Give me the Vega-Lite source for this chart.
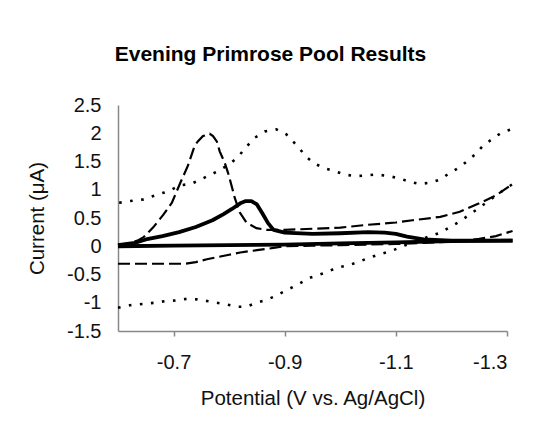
{
  "$schema": "https://vega.github.io/schema/vega-lite/v6.json",
  "width": 389,
  "height": 226,
  "autosize": {"type": "none"},
  "padding": {"left": 118, "top": 105, "right": 45, "bottom": 94},
  "background": "white",
  "title": {
    "text": "Evening Primrose Pool Results",
    "font": "Liberation Sans",
    "fontSize": 21,
    "fontWeight": "bold",
    "color": "#000000",
    "anchor": "middle",
    "baseline": "alphabetic",
    "dx": -42,
    "offset": 13
  },
  "data": {
    "values": [
      {"s": "d1", "o": 1, "x": -0.602, "y": 0.77},
      {"s": "d1", "o": 2, "x": -0.622, "y": 0.8},
      {"s": "d1", "o": 3, "x": -0.646, "y": 0.83},
      {"s": "d1", "o": 4, "x": -0.676, "y": 0.93},
      {"s": "d1", "o": 5, "x": -0.69, "y": 0.97},
      {"s": "d1", "o": 6, "x": -0.712, "y": 1.08},
      {"s": "d1", "o": 7, "x": -0.73, "y": 1.1},
      {"s": "d1", "o": 8, "x": -0.742, "y": 1.15},
      {"s": "d1", "o": 9, "x": -0.765, "y": 1.26},
      {"s": "d1", "o": 10, "x": -0.78, "y": 1.33},
      {"s": "d1", "o": 11, "x": -0.8, "y": 1.45},
      {"s": "d1", "o": 12, "x": -0.816, "y": 1.58},
      {"s": "d1", "o": 13, "x": -0.83, "y": 1.75},
      {"s": "d1", "o": 14, "x": -0.846, "y": 1.92},
      {"s": "d1", "o": 15, "x": -0.864, "y": 2.03},
      {"s": "d1", "o": 16, "x": -0.885, "y": 2.07},
      {"s": "d1", "o": 17, "x": -0.903, "y": 1.98},
      {"s": "d1", "o": 18, "x": -0.924, "y": 1.76},
      {"s": "d1", "o": 19, "x": -0.939, "y": 1.58},
      {"s": "d1", "o": 20, "x": -0.954, "y": 1.46},
      {"s": "d1", "o": 21, "x": -0.975, "y": 1.37},
      {"s": "d1", "o": 22, "x": -0.99, "y": 1.33},
      {"s": "d1", "o": 23, "x": -1.008, "y": 1.27},
      {"s": "d1", "o": 24, "x": -1.026, "y": 1.24},
      {"s": "d1", "o": 25, "x": -1.044, "y": 1.25},
      {"s": "d1", "o": 26, "x": -1.065, "y": 1.27},
      {"s": "d1", "o": 27, "x": -1.089, "y": 1.24},
      {"s": "d1", "o": 28, "x": -1.11, "y": 1.19},
      {"s": "d1", "o": 29, "x": -1.125, "y": 1.14},
      {"s": "d1", "o": 30, "x": -1.143, "y": 1.1},
      {"s": "d1", "o": 31, "x": -1.164, "y": 1.13},
      {"s": "d1", "o": 32, "x": -1.182, "y": 1.19},
      {"s": "d1", "o": 33, "x": -1.194, "y": 1.28},
      {"s": "d1", "o": 34, "x": -1.215, "y": 1.4},
      {"s": "d1", "o": 35, "x": -1.23, "y": 1.52},
      {"s": "d1", "o": 36, "x": -1.242, "y": 1.62},
      {"s": "d1", "o": 37, "x": -1.257, "y": 1.78},
      {"s": "d1", "o": 38, "x": -1.278, "y": 1.93},
      {"s": "d1", "o": 39, "x": -1.29, "y": 2.01},
      {"s": "d1", "o": 40, "x": -1.308, "y": 2.07},

      {"s": "d2", "o": 1, "x": -0.6, "y": -1.09},
      {"s": "d2", "o": 2, "x": -0.624, "y": -1.04},
      {"s": "d2", "o": 3, "x": -0.646, "y": -1.02},
      {"s": "d2", "o": 4, "x": -0.667, "y": -1.0},
      {"s": "d2", "o": 5, "x": -0.685, "y": -0.97},
      {"s": "d2", "o": 6, "x": -0.703, "y": -0.96},
      {"s": "d2", "o": 7, "x": -0.724, "y": -0.93},
      {"s": "d2", "o": 8, "x": -0.742, "y": -0.94},
      {"s": "d2", "o": 9, "x": -0.76, "y": -0.97},
      {"s": "d2", "o": 10, "x": -0.778, "y": -1.0},
      {"s": "d2", "o": 11, "x": -0.796, "y": -1.03},
      {"s": "d2", "o": 12, "x": -0.814, "y": -1.07},
      {"s": "d2", "o": 13, "x": -0.831, "y": -1.07},
      {"s": "d2", "o": 14, "x": -0.849, "y": -1.0},
      {"s": "d2", "o": 15, "x": -0.864, "y": -0.96},
      {"s": "d2", "o": 16, "x": -0.879, "y": -0.9},
      {"s": "d2", "o": 17, "x": -0.897, "y": -0.81},
      {"s": "d2", "o": 18, "x": -0.915, "y": -0.72},
      {"s": "d2", "o": 19, "x": -0.927, "y": -0.66},
      {"s": "d2", "o": 20, "x": -0.942, "y": -0.57},
      {"s": "d2", "o": 21, "x": -0.96, "y": -0.51},
      {"s": "d2", "o": 22, "x": -0.978, "y": -0.45},
      {"s": "d2", "o": 23, "x": -0.993, "y": -0.38},
      {"s": "d2", "o": 24, "x": -1.014, "y": -0.34},
      {"s": "d2", "o": 25, "x": -1.032, "y": -0.28},
      {"s": "d2", "o": 26, "x": -1.05, "y": -0.21},
      {"s": "d2", "o": 27, "x": -1.065, "y": -0.16},
      {"s": "d2", "o": 28, "x": -1.09, "y": -0.09},
      {"s": "d2", "o": 29, "x": -1.12, "y": 0.03},
      {"s": "d2", "o": 30, "x": -1.15, "y": 0.14},
      {"s": "d2", "o": 31, "x": -1.18, "y": 0.24},
      {"s": "d2", "o": 32, "x": -1.215, "y": 0.44},
      {"s": "d2", "o": 33, "x": -1.25, "y": 0.68},
      {"s": "d2", "o": 34, "x": -1.28, "y": 0.9},
      {"s": "d2", "o": 35, "x": -1.31, "y": 1.1},

      {"s": "a1", "o": 1, "x": -0.6, "y": 0.02},
      {"s": "a1", "o": 2, "x": -0.62, "y": 0.05},
      {"s": "a1", "o": 3, "x": -0.635, "y": 0.1},
      {"s": "a1", "o": 4, "x": -0.646, "y": 0.16},
      {"s": "a1", "o": 5, "x": -0.663, "y": 0.33},
      {"s": "a1", "o": 6, "x": -0.681, "y": 0.55},
      {"s": "a1", "o": 7, "x": -0.697, "y": 0.77},
      {"s": "a1", "o": 8, "x": -0.712, "y": 1.12},
      {"s": "a1", "o": 9, "x": -0.726, "y": 1.43},
      {"s": "a1", "o": 10, "x": -0.738, "y": 1.78},
      {"s": "a1", "o": 11, "x": -0.744, "y": 1.86},
      {"s": "a1", "o": 12, "x": -0.753, "y": 1.95},
      {"s": "a1", "o": 13, "x": -0.765, "y": 1.99},
      {"s": "a1", "o": 14, "x": -0.771, "y": 1.95},
      {"s": "a1", "o": 15, "x": -0.778, "y": 1.85},
      {"s": "a1", "o": 16, "x": -0.783, "y": 1.68},
      {"s": "a1", "o": 17, "x": -0.792, "y": 1.48},
      {"s": "a1", "o": 18, "x": -0.798, "y": 1.3},
      {"s": "a1", "o": 19, "x": -0.805, "y": 1.05},
      {"s": "a1", "o": 20, "x": -0.81, "y": 0.86},
      {"s": "a1", "o": 21, "x": -0.819, "y": 0.6},
      {"s": "a1", "o": 22, "x": -0.831, "y": 0.42},
      {"s": "a1", "o": 23, "x": -0.849, "y": 0.32},
      {"s": "a1", "o": 24, "x": -0.867, "y": 0.29},
      {"s": "a1", "o": 25, "x": -0.9, "y": 0.29},
      {"s": "a1", "o": 26, "x": -0.95, "y": 0.31},
      {"s": "a1", "o": 27, "x": -1.0, "y": 0.33},
      {"s": "a1", "o": 28, "x": -1.05, "y": 0.38},
      {"s": "a1", "o": 29, "x": -1.1, "y": 0.42},
      {"s": "a1", "o": 30, "x": -1.13, "y": 0.46},
      {"s": "a1", "o": 31, "x": -1.18, "y": 0.52},
      {"s": "a1", "o": 32, "x": -1.215, "y": 0.61},
      {"s": "a1", "o": 33, "x": -1.25, "y": 0.76},
      {"s": "a1", "o": 34, "x": -1.28, "y": 0.9},
      {"s": "a1", "o": 35, "x": -1.31, "y": 1.1},

      {"s": "a2", "o": 1, "x": -0.6, "y": -0.31},
      {"s": "a2", "o": 2, "x": -0.72, "y": -0.31},
      {"s": "a2", "o": 3, "x": -0.74, "y": -0.28},
      {"s": "a2", "o": 4, "x": -0.76, "y": -0.23},
      {"s": "a2", "o": 5, "x": -0.78, "y": -0.19},
      {"s": "a2", "o": 6, "x": -0.8, "y": -0.15},
      {"s": "a2", "o": 7, "x": -0.82, "y": -0.11},
      {"s": "a2", "o": 8, "x": -0.85, "y": -0.07},
      {"s": "a2", "o": 9, "x": -0.88, "y": -0.03},
      {"s": "a2", "o": 10, "x": -0.9, "y": 0.0},
      {"s": "a2", "o": 11, "x": -0.95, "y": 0.01},
      {"s": "a2", "o": 12, "x": -1.0, "y": 0.02},
      {"s": "a2", "o": 13, "x": -1.05, "y": 0.03},
      {"s": "a2", "o": 14, "x": -1.1, "y": 0.04},
      {"s": "a2", "o": 15, "x": -1.15, "y": 0.06},
      {"s": "a2", "o": 16, "x": -1.2, "y": 0.08},
      {"s": "a2", "o": 17, "x": -1.25, "y": 0.13},
      {"s": "a2", "o": 18, "x": -1.28, "y": 0.18},
      {"s": "a2", "o": 19, "x": -1.31, "y": 0.27},

      {"s": "t1", "o": 1, "x": -0.6, "y": 0.02},
      {"s": "t1", "o": 2, "x": -0.63, "y": 0.06},
      {"s": "t1", "o": 3, "x": -0.65, "y": 0.12},
      {"s": "t1", "o": 4, "x": -0.68, "y": 0.18},
      {"s": "t1", "o": 5, "x": -0.71, "y": 0.25},
      {"s": "t1", "o": 6, "x": -0.74, "y": 0.34},
      {"s": "t1", "o": 7, "x": -0.77, "y": 0.46},
      {"s": "t1", "o": 8, "x": -0.79, "y": 0.57},
      {"s": "t1", "o": 9, "x": -0.805, "y": 0.66},
      {"s": "t1", "o": 10, "x": -0.82, "y": 0.76},
      {"s": "t1", "o": 11, "x": -0.83, "y": 0.8},
      {"s": "t1", "o": 12, "x": -0.84, "y": 0.8},
      {"s": "t1", "o": 13, "x": -0.85, "y": 0.74},
      {"s": "t1", "o": 14, "x": -0.86, "y": 0.58},
      {"s": "t1", "o": 15, "x": -0.87, "y": 0.41},
      {"s": "t1", "o": 16, "x": -0.88, "y": 0.29},
      {"s": "t1", "o": 17, "x": -0.9, "y": 0.24},
      {"s": "t1", "o": 18, "x": -0.95, "y": 0.22},
      {"s": "t1", "o": 19, "x": -1.0, "y": 0.23},
      {"s": "t1", "o": 20, "x": -1.05, "y": 0.25},
      {"s": "t1", "o": 21, "x": -1.08, "y": 0.24},
      {"s": "t1", "o": 22, "x": -1.1, "y": 0.22},
      {"s": "t1", "o": 23, "x": -1.12, "y": 0.17},
      {"s": "t1", "o": 24, "x": -1.15, "y": 0.12},
      {"s": "t1", "o": 25, "x": -1.2, "y": 0.1},
      {"s": "t1", "o": 26, "x": -1.25, "y": 0.1},
      {"s": "t1", "o": 27, "x": -1.31, "y": 0.1},

      {"s": "t2", "o": 1, "x": -0.6, "y": 0.0},
      {"s": "t2", "o": 2, "x": -0.7, "y": 0.01},
      {"s": "t2", "o": 3, "x": -0.8, "y": 0.02},
      {"s": "t2", "o": 4, "x": -0.9, "y": 0.03},
      {"s": "t2", "o": 5, "x": -1.0, "y": 0.05},
      {"s": "t2", "o": 6, "x": -1.1, "y": 0.07},
      {"s": "t2", "o": 7, "x": -1.2, "y": 0.09},
      {"s": "t2", "o": 8, "x": -1.31, "y": 0.1}
    ]
  },
  "encoding": {
    "x": {
      "field": "x",
      "type": "quantitative",
      "scale": {"domain": [-1.3, -0.6], "reverse": true, "nice": false, "zero": false},
      "axis": {
        "values": [-0.7, -0.9, -1.1, -1.3],
        "labelExpr": "'' + datum.value",
        "title": "Potential (V vs. Ag/AgCl)",
        "tickSize": 5,
        "labelPadding": 16,
        "titlePadding": 16
      }
    },
    "y": {
      "field": "y",
      "type": "quantitative",
      "scale": {"domain": [-1.5, 2.5], "nice": false, "zero": false},
      "axis": {
        "values": [-1.5, -1, -0.5, 0, 0.5, 1, 1.5, 2, 2.5],
        "labelExpr": "'' + datum.value",
        "title": "Current (μA)",
        "ticks": false,
        "labelPadding": 17,
        "titlePadding": 19
      }
    },
    "order": {"field": "o", "type": "quantitative"},
    "detail": {"field": "s", "type": "nominal"}
  },
  "layer": [
    {
      "transform": [{"filter": "datum.s === 'd1' || datum.s === 'd2'"}],
      "mark": {"type": "line", "color": "#000000", "strokeWidth": 2.6, "strokeDash": [2.6, 8.5], "strokeCap": "butt"}
    },
    {
      "transform": [{"filter": "datum.s === 'a1' || datum.s === 'a2'"}],
      "mark": {"type": "line", "color": "#000000", "strokeWidth": 2.2, "strokeDash": [12, 5], "strokeCap": "butt"}
    },
    {
      "transform": [{"filter": "datum.s === 't1' || datum.s === 't2'"}],
      "mark": {"type": "line", "color": "#000000", "strokeWidth": 3.8, "strokeJoin": "round"}
    }
  ],
  "config": {
    "view": {"stroke": null},
    "axis": {
      "grid": false,
      "domainColor": "#888888",
      "tickColor": "#888888",
      "domainWidth": 1.5,
      "tickWidth": 1.5,
      "labelFont": "Liberation Sans",
      "labelFontSize": 20,
      "labelColor": "#111111",
      "titleFont": "Liberation Sans",
      "titleFontSize": 20.5,
      "titleFontWeight": "normal",
      "titleColor": "#111111"
    }
  }
}
